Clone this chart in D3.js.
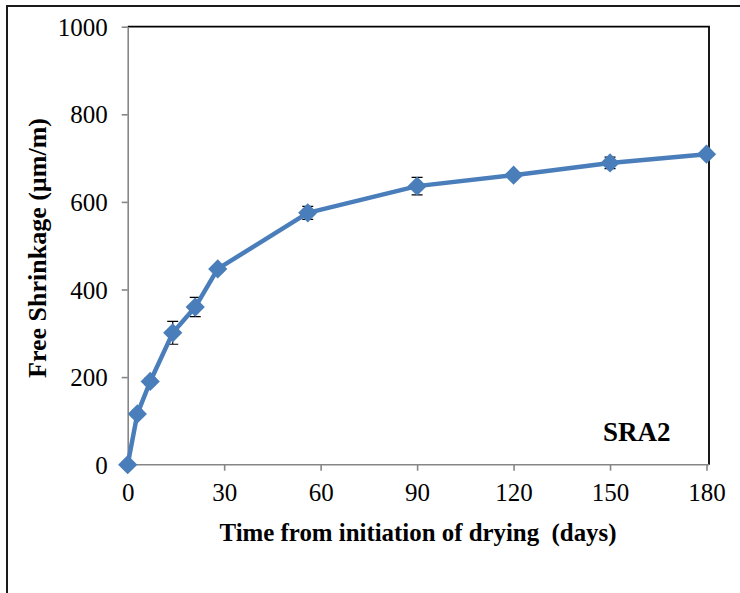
<!DOCTYPE html>
<html>
<head>
<meta charset="utf-8">
<script src="https://cdn.jsdelivr.net/npm/d3@7"></script>
<style>
  html, body { margin: 0; padding: 0; background: #fff; }
  svg { display: block; }
</style>
</head>
<body>
<svg id="chart" width="740" height="593"></svg>
<script>
// Free shrinkage of mixture SRA2 over the drying period
const days      = [0, 3, 7, 14, 21, 28, 56, 90, 120, 150, 180];
const shrinkage = [0, 116, 190, 301, 360, 447, 575, 636, 661, 689, 709];
const errors    = [0, 8, 8, 26, 22, 6, 15, 20, 5, 13, 6];
const xTicks    = [0, 30, 60, 90, 120, 150, 180];
const yTicks    = [0, 200, 400, 600, 800, 1000];
const seriesLabel = "SRA2";
const xTitle = "Time from initiation of drying  (days)";
const yTitle = "Free Shrinkage (\u00b5m/m)";

const svg = d3.select("#chart");
const W = 740, H = 593;
const plot = { left: 127.7, top: 26.7, right: 706.5, bottom: 464.7, frameRight: 709 };
const blue = "#4a7ebb";
const axisGrey = "#868686";
const serif = "'Liberation Serif', 'Times New Roman', serif";

const x = d3.scaleLinear().domain([0, 180]).range([plot.left, plot.right]);
const y = d3.scaleLinear().domain([0, 1000]).range([plot.bottom, plot.top]);

// outer chart frame (continues past the visible page edge)
svg.append("rect")
  .attr("x", 7).attr("y", 6)
  .attr("width", W + 20).attr("height", H + 20)
  .attr("fill", "none").attr("stroke", "#1a1a1a").attr("stroke-width", 2);

// plot-area border on top and right
svg.append("path")
  .attr("d", `M${plot.left},${plot.top}H${plot.frameRight}V${plot.bottom}`)
  .attr("fill", "none").attr("stroke", "#000").attr("stroke-width", 1.8);

// axes
const fmt = d3.format("d");
const xAxis = d3.axisBottom(x).tickValues(xTicks).tickFormat(fmt).tickSize(6).tickPadding(8).tickSizeOuter(0);
const yAxis = d3.axisLeft(y).tickValues(yTicks).tickFormat(fmt).tickSize(6).tickPadding(14).tickSizeOuter(0);

const gx = svg.append("g").attr("transform", `translate(0,${plot.bottom})`).call(xAxis);
const gy = svg.append("g").attr("transform", `translate(${plot.left},0)`).call(yAxis);

[gx, gy].forEach(g => {
  g.attr("font-family", serif).attr("font-size", 25);
  g.select(".domain").attr("stroke", axisGrey).attr("stroke-width", 1.6);
  g.selectAll(".tick line").attr("stroke", axisGrey).attr("stroke-width", 1.6);
  g.selectAll(".tick text")
    .attr("fill", "#000")
    .style("font-family", serif)
    .style("font-size", "25px");
});
// the x domain line runs to the plot border
gx.select(".domain").attr("d", `M${plot.left},0H${plot.frameRight}`);
gx.selectAll(".tick text").attr("dy", "0.9em");
gy.selectAll(".tick text").attr("dy", "0.34em");

// axis titles
svg.append("text")
  .attr("x", 418).attr("y", 541)
  .attr("text-anchor", "middle")
  .attr("textLength", 397).attr("lengthAdjust", "spacingAndGlyphs")
  .style("white-space", "pre")
  .style("font-family", serif).style("font-size", "25px").style("font-weight", "bold")
  .text(xTitle);

svg.append("text")
  .attr("transform", `translate(46,248) rotate(-90)`)
  .attr("text-anchor", "middle")
  .attr("textLength", 260).attr("lengthAdjust", "spacingAndGlyphs")
  .style("font-family", serif).style("font-size", "25px").style("font-weight", "bold")
  .text(yTitle);

// series label
svg.append("text")
  .attr("x", 603).attr("y", 441)
  .style("font-family", serif).style("font-size", "27px").style("font-weight", "bold")
  .text(seriesLabel);

const data = days.map((d, i) => ({ day: d, value: shrinkage[i], err: errors[i] }));

// error bars
const eb = svg.append("g").attr("stroke", "#000").attr("stroke-width", 1.2);
data.filter(d => d.err > 0).forEach(d => {
  const cx = x(d.day), y0 = y(d.value - d.err), y1 = y(d.value + d.err);
  eb.append("path").attr("d", `M${cx},${y0}V${y1}M${cx - 5.5},${y0}H${cx + 5.5}M${cx - 5.5},${y1}H${cx + 5.5}`);
});

// line
svg.append("path")
  .datum(data)
  .attr("fill", "none")
  .attr("stroke", blue)
  .attr("stroke-width", 4.5)
  .attr("stroke-linejoin", "round")
  .attr("d", d3.line().x(d => x(d.day)).y(d => y(d.value)));

// diamond markers
const diamond = d3.symbol().type(d3.symbolSquare).size(185);
svg.append("g").selectAll("path")
  .data(data)
  .join("path")
  .attr("d", diamond)
  .attr("transform", d => `translate(${x(d.day)},${y(d.value)}) rotate(45)`)
  .attr("fill", blue);
</script>
</body>
</html>
